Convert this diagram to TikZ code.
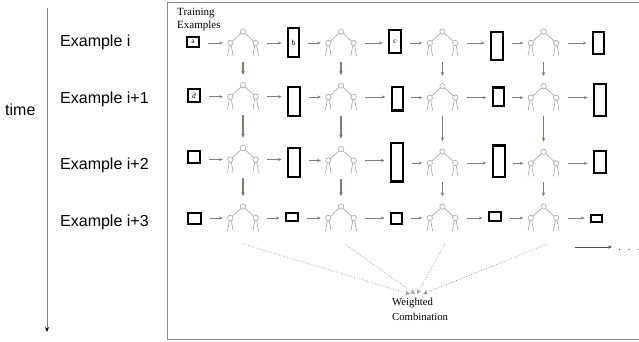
\documentclass[tikz,border=0pt]{standalone}
\usepackage{fontspec}
\setmainfont{Liberation Serif}
\setsansfont{Liberation Sans}
\usetikzlibrary{arrows.meta}

\definecolor{treegray}{RGB}{165,165,165}
\definecolor{arrgray}{RGB}{125,125,125}
\definecolor{vgreen}{RGB}{118,130,106}
\definecolor{framegray}{RGB}{140,140,140}

% a small binary tree drawn round the centre of a (blank) node
\newcommand\drawtree[1]{%
  \begin{scope}[shift={(#1.center)}, draw=treegray, line width=0.6pt]
    \draw (0,-11.5) circle (2.7pt);
    \draw (-12.7,0) circle (2.7pt);
    \draw (12.7,0) circle (2.7pt);
    \draw (-2.0,-9.7) -- (-10.7,-1.8);
    \draw (2.0,-9.7) -- (10.7,-1.8);
    \draw (-13.7,2.5) -- (-15.5,13);
    \draw (-11.7,2.5) -- (-9.9,13);
    \draw (11.7,2.5) -- (9.9,13);
    \draw (13.7,2.5) -- (15.5,13);
  \end{scope}}

\tikzset{
  ebox/.style={draw=black, line width=2.2pt, fill=white, inner sep=0pt,
    font=\fontsize{7.5}{7.5}\selectfont},
  treenode/.style={minimum width=34pt, minimum height=29pt, inner sep=0pt},
  harr/.style={draw=arrgray, line width=0.6pt, -{Stealth[length=3.5pt,width=3pt]}},
  b2t/.style={harr, shorten <=7.5pt, shorten >=3pt},
  t2b/.style={harr, shorten <=7pt, shorten >=5.5pt},
  varr/.style={draw=vgreen, line width=1.4pt, -{Stealth[length=4pt,width=3.5pt]},
    shorten <=4pt, shorten >=7pt},
  dotarr/.style={draw=treegray!90!black, line width=0.7pt, dotted,
    -{Stealth[open,length=5pt,width=4.5pt]}},
  rowlabel/.style={anchor=base west, inner sep=0pt,
    font=\sffamily\fontsize{16}{19}\selectfont},
}

\begin{document}
\begin{tikzpicture}[x=1pt, y=-1pt]
\useasboundingbox (0,0) rectangle (639,342);

% frame round the ensemble
\draw[framegray, line width=1pt] (639,3) -- (167,3) -- (167,339) -- (639,339);

% time axis
\coordinate (ttop) at (47,8);
\coordinate (tbot) at (47,332);
\draw[arrgray, line width=0.8pt, -{Stealth[black,length=5pt,width=4pt]}] (ttop) -- (tbot);
\node[rowlabel] (time) at (5,115) {time};

% row labels
\node[rowlabel] (l1) at (60,46.5) {Example i};
\node[rowlabel] (l2) at (60,104) {Example i+1};
\node[rowlabel] (l3) at (60,169) {Example i+2};
\node[rowlabel] (l4) at (60,226) {Example i+3};

% header
\node[anchor=west, align=left, inner sep=0pt, font=\fontsize{11}{12.4}\selectfont]
  (train) at (177,19.5) {Training\\Examples};

% trees
\foreach \r/\ya/\yb/\yc/\yd in {1/43/43/43/43, 2/96.7/97/97.7/97.7,
                                 3/159.5/160.5/163/163.3, 4/218/218/218/218}{
  \node[treenode] (t\r1) at (243,\ya) {};   \drawtree{t\r1}
  \node[treenode] (t\r2) at (341,\yb) {};   \drawtree{t\r2}
  \node[treenode] (t\r3) at (442.5,\yc) {}; \drawtree{t\r3}
  \node[treenode] (t\r4) at (543.5,\yd) {}; \drawtree{t\r4}
}

% example boxes, row 1
\node[ebox, minimum width=11.8pt, minimum height=9.8pt] (b10) at (193,42) {a};
\node[ebox, minimum width=10.8pt, minimum height=28.8pt] (b11) at (293.5,42.5) {b};
\node[ebox, minimum width=11.8pt, minimum height=22.8pt] (b12) at (395,41.5) {c};
\node[ebox, minimum width=11.8pt, minimum height=27.8pt] (b13) at (497,46) {};
\node[ebox, minimum width=10.8pt, minimum height=21.8pt] (b14) at (598.5,43) {};
% row 2
\node[ebox, minimum width=11.8pt, minimum height=12.8pt] (b20) at (194,95.5) {\itshape d};
\node[ebox, minimum width=11.8pt, minimum height=28.8pt] (b21) at (294,101.5) {};
\node[ebox, minimum width=10.8pt, minimum height=23.8pt] (b22) at (397.3,98.7) {};
\node[ebox, minimum width=10.8pt, minimum height=18.8pt] (b23) at (498.3,97) {};
\node[ebox, minimum width=11.8pt, minimum height=31.8pt] (b24) at (600,100) {};
% row 3
\node[ebox, minimum width=11.8pt, minimum height=11.8pt] (b30) at (194,157) {};
\node[ebox, minimum width=11.8pt, minimum height=28.8pt] (b31) at (294,162.5) {};
\node[ebox, minimum width=11.8pt, minimum height=38.8pt] (b32) at (397,162) {};
\node[ebox, minimum width=11.8pt, minimum height=31.8pt] (b33) at (498.7,161.3) {};
\node[ebox, minimum width=11.8pt, minimum height=21.8pt] (b34) at (600,162) {};
% row 4
\node[ebox, minimum width=12.8pt, minimum height=10.8pt] (b40) at (194.5,218.5) {};
\node[ebox, minimum width=11.8pt, minimum height=7.8pt] (b41) at (292,217) {};
\node[ebox, minimum width=10.8pt, minimum height=10.8pt] (b42) at (396.5,218.5) {};
\node[ebox, minimum width=11.8pt, minimum height=8.8pt] (b43) at (495,216.5) {};
\node[ebox, minimum width=10.8pt, minimum height=6.8pt] (b44) at (596.5,218.5) {};

% chain of arrows along each row
\foreach \r in {1,2,3,4}{
  \draw[b2t] (b\r0.east |- t\r1.west) -- (t\r1.west);
  \draw[t2b] (t\r1.east) -- (t\r1.east -| b\r1.west);
  \draw[b2t] (b\r1.east |- t\r2.west) -- (t\r2.west);
  \draw[t2b] (t\r2.east) -- (t\r2.east -| b\r2.west);
  \draw[b2t] (b\r2.east |- t\r3.west) -- (t\r3.west);
  \draw[t2b] (t\r3.east) -- (t\r3.east -| b\r3.west);
  \draw[b2t] (b\r3.east |- t\r4.west) -- (t\r4.west);
  \draw[t2b] (t\r4.east) -- (t\r4.east -| b\r4.west);
}

% each tree is passed on to the next example
\foreach \c in {1,2,3,4}{
  \draw[varr] (t1\c.south) -- (t2\c.north);
  \draw[varr] (t2\c.south) -- (t3\c.north);
  \draw[varr] (t3\c.south) -- (t4\c.north);
}

% weighted combination of the final trees
\node[anchor=north west, align=left, inner sep=0pt, font=\fontsize{10.7}{15}\selectfont]
  (wc) at (392,298) {Weighted\\Combination};
\coordinate (d1) at (243,244);
\coordinate (d2) at (345,244);
\coordinate (d3) at (445,244);
\coordinate (d4) at (547,244);
\coordinate (e1) at (410,294);
\coordinate (e2) at (415,294);
\coordinate (e3) at (417,294);
\coordinate (e4) at (423,294);
\draw[dotarr] (d1) -- (e1);
\draw[dotarr] (d2) -- (e2);
\draw[dotarr] (d3) -- (e3);
\draw[dotarr] (d4) -- (e4);

% continuation
\coordinate (c1) at (575,247);
\coordinate (c2) at (612,247);
\draw[draw=black!70, line width=0.7pt, -{Stealth[length=4pt,width=3pt]}] (c1) -- (c2);
\node[anchor=base west, inner sep=0pt, font=\fontsize{11}{11}\selectfont, black!70]
  (dots) at (618,250) {.\hspace{7pt}.\hspace{7pt}.};
\end{tikzpicture}
\end{document}
